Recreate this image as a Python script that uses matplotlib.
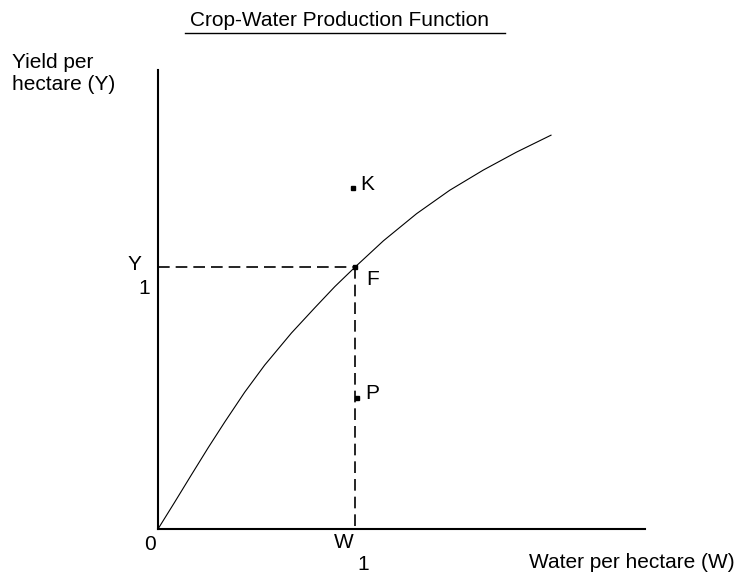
import matplotlib.pyplot as plt
from matplotlib.lines import Line2D

# production function (axes run 0..10 in both directions)
water = [0, 0.34, 0.68, 1.03, 1.37, 1.78, 2.19, 2.74, 3.22, 3.63, 4.05,
         4.63, 5.31, 5.99, 6.68, 7.36, 8.07]
crop_yield = [0, 0.58, 1.17, 1.77, 2.33, 2.98, 3.57, 4.27, 4.82, 5.28, 5.71,
              6.28, 6.87, 7.38, 7.82, 8.21, 8.58]

# labelled points
point_names = ["F", "K", "P"]
point_w = [4.05, 4.00, 4.09]
point_y = [5.71, 7.43, 2.85]
label_offsets = {"F": (17, -13), "K": (14, 3), "P": (15, 5)}

W, H = 740, 574
fig = plt.figure(figsize=(W / 100, H / 100), dpi=100)
plt.rcParams["font.family"] = ["Liberation Sans", "DejaVu Sans"]
fs = 15

ax = fig.add_axes([158 / W, 45 / H, 487 / W, 459 / H])
ax.set_xlim(0, 10)
ax.set_ylim(0, 10)
for s in ["top", "right"]:
    ax.spines[s].set_visible(False)
for s in ["left", "bottom"]:
    ax.spines[s].set_linewidth(1.5)
ax.set_xticks([])
ax.set_yticks([])

ax.plot(water, crop_yield, color="black", lw=0.8, clip_on=False)

fw, fy = point_w[0], point_y[0]
ax.plot([0, fw], [fy, fy], color="black", lw=1.2, dashes=(7, 3.6))
ax.plot([fw, fw], [fy, 0], color="black", lw=1.2, dashes=(7, 3.6))

ax.plot(point_w, point_y, "s", color="black", markersize=2.2, clip_on=False)
for name, pw, py in zip(point_names, point_w, point_y):
    ax.annotate(name, (pw, py), xytext=label_offsets[name], textcoords="offset pixels",
                ha="center", va="center", fontsize=fs)

# axis marks
ax.annotate("0", (0, 0), xytext=(-8, -16), textcoords="offset pixels",
            ha="center", va="center", fontsize=fs, annotation_clip=False)
ax.annotate("W", (fw, 0), xytext=(-11, -13), textcoords="offset pixels",
            ha="center", va="center", fontsize=fs, annotation_clip=False)
ax.annotate("1", (fw, 0), xytext=(8, -36), textcoords="offset pixels",
            ha="center", va="center", fontsize=fs, annotation_clip=False)
ax.annotate("Y", (0, fy), xytext=(-24, 2), textcoords="offset pixels",
            ha="center", va="center", fontsize=fs, annotation_clip=False)
ax.annotate("1", (0, fy), xytext=(-14, -22), textcoords="offset pixels",
            ha="center", va="center", fontsize=fs, annotation_clip=False)

fig.text(632 / W, 1 - 562 / H, "Water per hectare (W)", ha="center", va="center", fontsize=fs)
fig.text(12 / W, 1 - 73 / H, "Yield per\nhectare (Y)", ha="left", va="center",
         fontsize=fs, linespacing=1.2)

fig.text(340 / W, 1 - 20 / H, "Crop-Water Production Function", ha="center", va="center", fontsize=fs)
fig.add_artist(Line2D([185 / W, 505 / W], [1 - 33 / H, 1 - 33 / H], color="black", lw=1.0))

fig.savefig("out.png", dpi=100, facecolor="white")
